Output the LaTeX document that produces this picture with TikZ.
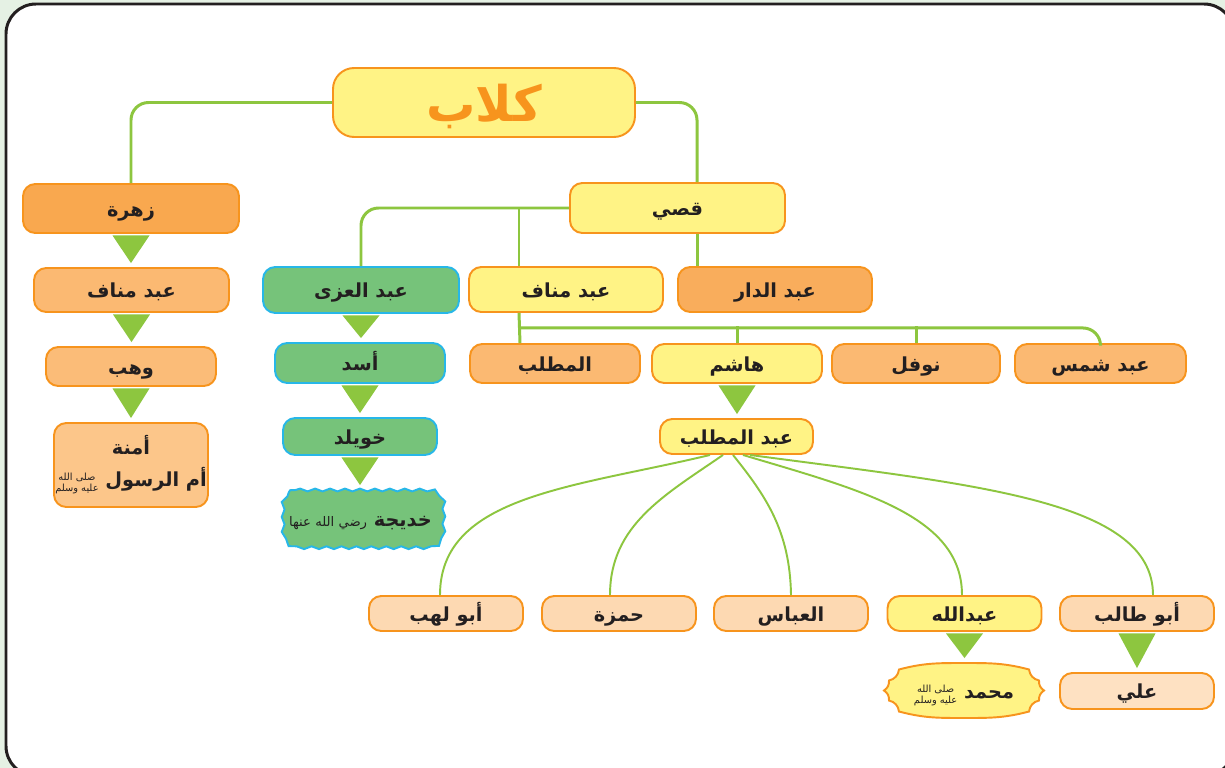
\documentclass[tikz,border=0pt]{standalone}
\usepackage{fontspec}
\usetikzlibrary{calc, decorations.pathmorphing}
\newfontfamily\arabicfont[Script=Arabic]{DejaVu Sans}
\TeXXeTstate=1
\definecolor{ink}{RGB}{35,31,32}
\definecolor{pagetint}{RGB}{229,241,228}
\definecolor{edgeorange}{RGB}{247,148,29}
\definecolor{edgecyan}{RGB}{39,183,232}
\definecolor{linkgreen}{RGB}{141,198,63}
\definecolor{yellowfill}{RGB}{255,243,133}
\definecolor{orangedeep}{RGB}{249,168,79}
\definecolor{orangemid}{RGB}{249,173,92}
\definecolor{orangesoft}{RGB}{251,185,114}
\definecolor{orangelight}{RGB}{251,188,120}
\definecolor{orangepale}{RGB}{252,198,138}
\definecolor{peach}{RGB}{253,217,178}
\definecolor{peachpale}{RGB}{254,225,194}
\definecolor{greenfill}{RGB}{118,195,122}
\newcommand\rtl[1]{\beginR#1\endR}
% small honorific, set as two short lines
\newcommand\salla{{\mdseries\fontsize{5.6}{7.2}\selectfont\renewcommand\arraystretch{0.8}\begin{tabular}{@{}c@{}}\rtl{صلى الله}\\\rtl{عليه وسلم}\end{tabular}}}
\tikzset{
  person/.style={draw=edgeorange, line width=1.1pt, rounded corners=7pt, text=ink, inner sep=2pt,
    text height=9pt, text depth=0pt, font=\arabicfont\bfseries\fontsize{11}{15}\selectfont},
  greenbox/.style={person, draw=edgecyan, fill=greenfill},
  wavy/.style={decorate, decoration={snake, amplitude=0.8pt, segment length=8.5pt}},
  link/.style={draw=linkgreen, line width=1.7pt, rounded corners=10pt},
  branch/.style={draw=linkgreen, line width=1.1pt},
  tri/.style={fill=linkgreen}
}
\newcommand\downtri[2]{\fill[tri] ([xshift=-0.37cm,yshift=-0.03cm]#1.south) -- ([xshift=0.37cm,yshift=-0.03cm]#1.south) -- ($(#1.south |- #2.north)+(0,0.08)$) -- cycle;}

\begin{document}
\begin{tikzpicture}
  \useasboundingbox (0,0) rectangle (24.5,-15.36);
  \fill[pagetint] (0,0) rectangle (24.5,-15.36);
  \draw[ink, line width=1.7pt, fill=white, rounded corners=0.6cm] (0.12,-0.08) rectangle (24.68,-15.52);

  % Kilab
  \node[person, fill=yellowfill, minimum width=6.04cm, minimum height=1.38cm, rounded corners=12pt, text height=22pt,
    text=edgeorange, font=\arabicfont\bfseries\fontsize{28}{30}\selectfont] (kilab) at (9.68,-2.05) {\rtl{كلاب}};

  % Zuhra line
  \node[person, fill=orangedeep, minimum width=4.32cm, minimum height=0.98cm] (zuhra) at (2.62,-4.17) {\rtl{زهرة}};
  \node[person, fill=orangesoft, minimum width=3.9cm, minimum height=0.88cm] (abdmanafz) at (2.63,-5.8) {\rtl{عبد مناف}};
  \node[person, fill=orangelight, minimum width=3.4cm, minimum height=0.78cm] (wahb) at (2.62,-7.33) {\rtl{وهب}};
  \node[person, fill=orangepale, minimum width=3.08cm, minimum height=1.68cm, align=center, inner xsep=0.3pt,
    text height=, text depth=] (amina) at (2.62,-9.3)
    {\rtl{أمنة}\\[3pt] \rtl{أم الرسول \salla}};

  % Qusai and his sons
  \node[person, fill=yellowfill, minimum width=4.3cm, minimum height=1.0cm] (qusai) at (13.55,-4.16) {\rtl{قصي}};
  \node[greenbox, minimum width=3.92cm, minimum height=0.92cm] (abduzza) at (7.22,-5.8) {\rtl{عبد العزى}};
  \node[person, fill=yellowfill, minimum width=3.88cm, minimum height=0.9cm] (abdmanaf) at (11.32,-5.79) {\rtl{عبد مناف}};
  \node[person, fill=orangemid, minimum width=3.88cm, minimum height=0.9cm] (abddar) at (15.5,-5.79) {\rtl{عبد الدار}};

  % Asad line
  \node[greenbox, minimum width=3.4cm, minimum height=0.8cm] (asad) at (7.2,-7.26) {\rtl{أسد}};
  \node[greenbox, minimum width=3.08cm, minimum height=0.74cm] (khuwaylid) at (7.2,-8.73) {\rtl{خويلد}};
  \begin{scope}[shift={(7.21,-10.38)}]
    \draw[wavy, draw=edgecyan, line width=1.1pt, fill=greenfill] (-1.3,0.58) -- (1.3,0.58) arc[start angle=90, end angle=0, radius=0.3]
      -- (1.6,-0.28) arc[start angle=0, end angle=-90, radius=0.3] -- (-1.3,-0.58) arc[start angle=270, end angle=180, radius=0.3]
      -- (-1.6,0.28) arc[start angle=180, end angle=90, radius=0.3] -- cycle;
  \end{scope}
  \node[person, draw=none, minimum width=3.3cm, minimum height=1.16cm] (khadija) at (7.21,-10.38)
    {\rtl{خديجة {\mdseries\fontsize{7.5}{9}\selectfont رضي الله عنها}}};

  % Abd Manaf's sons
  \node[person, fill=orangesoft, minimum width=3.4cm, minimum height=0.78cm] (muttalib) at (11.1,-7.27) {\rtl{المطلب}};
  \node[person, fill=yellowfill, minimum width=3.4cm, minimum height=0.78cm] (hashim) at (14.74,-7.27) {\rtl{هاشم}};
  \node[person, fill=orangesoft, minimum width=3.36cm, minimum height=0.78cm] (nawfal) at (18.32,-7.27) {\rtl{نوفل}};
  \node[person, fill=orangesoft, minimum width=3.42cm, minimum height=0.78cm] (abdshams) at (22.01,-7.27) {\rtl{عبد شمس}};

  \node[person, fill=yellowfill, minimum width=3.06cm, minimum height=0.7cm] (abdmuttalib) at (14.73,-8.73) {\rtl{عبد المطلب}};

  % Abd al-Muttalib's sons
  \node[person, fill=peach, minimum width=3.08cm, minimum height=0.7cm] (abulahab) at (8.92,-12.27) {\rtl{أبو لهب}};
  \node[person, fill=peach, minimum width=3.08cm, minimum height=0.7cm] (hamza) at (12.38,-12.27) {\rtl{حمزة}};
  \node[person, fill=peach, minimum width=3.08cm, minimum height=0.7cm] (abbas) at (15.82,-12.27) {\rtl{العباس}};
  \node[person, fill=yellowfill, minimum width=3.08cm, minimum height=0.7cm] (abdallah) at (19.29,-12.27) {\rtl{عبدالله}};
  \node[person, fill=peach, minimum width=3.08cm, minimum height=0.7cm] (abutalib) at (22.74,-12.27) {\rtl{أبو طالب}};

  % Muhammad badge
  \begin{scope}[shift={(19.28,-13.81)}]
    \draw[draw=edgeorange, line width=1.1pt, fill=yellowfill] (-1.3,0.42) to[out=15,in=180] (0,0.55) to[out=0,in=165] (1.3,0.42)
      to[bend right=35] (1.5,0.2) to[bend right=30] (1.6,0) to[bend right=30] (1.5,-0.2) to[bend right=35] (1.3,-0.42)
      to[out=-165,in=0] (0,-0.55) to[out=180,in=-15] (-1.3,-0.42)
      to[bend right=35] (-1.5,-0.2) to[bend right=30] (-1.6,0) to[bend right=30] (-1.5,0.2) to[bend right=35] cycle;
  \end{scope}
  \node[person, draw=none, minimum width=3.2cm, minimum height=1.1cm] (muhammad) at (19.28,-13.81) {\rtl{محمد \salla}};
  \node[person, fill=peachpale, minimum width=3.08cm, minimum height=0.72cm] (ali) at (22.74,-13.82) {\rtl{علي}};

  % Links
  \draw[link] (kilab.west) -| (zuhra.north);
  \draw[link] (kilab.east) -| ([xshift=0.39cm]qusai.north);
  \draw[link] (qusai.west) -| (abduzza.north);
  \draw[link] ([xshift=-0.94cm]abdmanaf.north) -- ([xshift=-0.94cm]abdmanaf.north |- qusai.west);
  \draw[link] ([xshift=0.39cm]qusai.south) -- ([xshift=0.39cm]qusai.south |- abddar.north);
  \draw[link] ([xshift=-0.94cm]abdmanaf.south) ++(0,-0.3) -| (abdshams.north);
  \draw[link] ([xshift=-0.94cm]abdmanaf.south) -- ([xshift=-0.7cm]muttalib.north);
  \draw[link] (hashim.north) -- ++(0,0.34);
  \draw[link] (nawfal.north) -- ++(0,0.34);

  % Curved branches
  \draw[branch] ([xshift=-0.53cm]abdmuttalib.south) .. controls (11.5,-9.75) and (8.8,-9.9) .. ([xshift=-0.12cm]abulahab.north);
  \draw[branch] ([xshift=-0.27cm]abdmuttalib.south) .. controls (13.3,-9.9) and (12.2,-10.5) .. ([xshift=-0.18cm]hamza.north);
  \draw[branch] ([xshift=-0.07cm]abdmuttalib.south) .. controls (15.3,-9.9) and (15.8,-10.6) .. (abbas.north);
  \draw[branch] ([xshift=0.13cm]abdmuttalib.south) .. controls (17.2,-9.8) and (19.24,-10.3) .. ([xshift=-0.05cm]abdallah.north);
  \draw[branch] ([xshift=0.27cm]abdmuttalib.south) .. controls (19.5,-9.7) and (23.06,-10.0) .. ([xshift=0.32cm]abutalib.north);

  % Descent triangles
  \downtri{zuhra}{abdmanafz}
  \downtri{abdmanafz}{wahb}
  \downtri{wahb}{amina}
  \downtri{abduzza}{asad}
  \downtri{asad}{khuwaylid}
  \downtri{khuwaylid}{khadija}
  \downtri{hashim}{abdmuttalib}
  \downtri{abdallah}{muhammad}
  \downtri{abutalib}{ali}
\end{tikzpicture}
\end{document}
